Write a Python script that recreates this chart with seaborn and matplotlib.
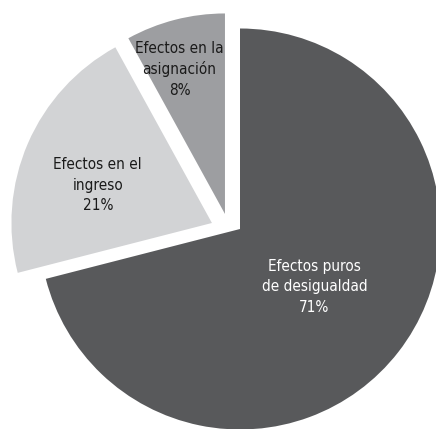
import numpy as np
import matplotlib
matplotlib.use("Agg")
import matplotlib.pyplot as plt
import seaborn as sns

categories = ["Efectos puros\nde desigualdad", "Efectos en el\ningreso", "Efectos en la\nasignación"]
values = [71, 21, 8]

colors = ["#58595b", "#d2d3d5", "#9d9ea1"]
text_colors = ["white", "#1a1a1a", "#1a1a1a"]
# wedge shifts (data units), label radii and label angle tweaks (deg)
shifts = [(0.0, 0.0), (-0.14, 0.03), (-0.075, 0.075)]
label_r = [0.47, 0.60, 0.757]
label_dang = [0.0, 5.0, 3.0]

sns.set_theme(style="white")
plt.rcParams["font.family"] = ["DejaVu Sans"]

W, H = 436, 429
fig = plt.figure(figsize=(W / 100, H / 100), dpi=100)
ax = fig.add_axes([0, 0, 1, 1])

wedges, _ = ax.pie(values, colors=colors, startangle=90, counterclock=False,
                   radius=1.0, center=(0, 0),
                   wedgeprops=dict(linewidth=0))

total = sum(values)
for w, sh, r, da, cat, v, tc in zip(wedges, shifts, label_r, label_dang,
                                    categories, values, text_colors):
    w.set_center((sh[0], sh[1]))
    mid = np.deg2rad((w.theta1 + w.theta2) / 2 + da)
    cx, cy = sh
    ax.text(cx + r * np.cos(mid), cy + r * np.sin(mid),
            f"{cat}\n{round(v / total * 100)}%",
            ha="center", va="center", color=tc, fontsize=11,
            fontstretch="condensed", linespacing=1.45)

scale = 200.5
cxp, cyp = 240, 229
ax.set_xlim(-cxp / scale, (W - cxp) / scale)
ax.set_ylim(-(H - cyp) / scale, cyp / scale)
ax.set_aspect("equal")
ax.axis("off")

fig.savefig("out.png", dpi=100)
